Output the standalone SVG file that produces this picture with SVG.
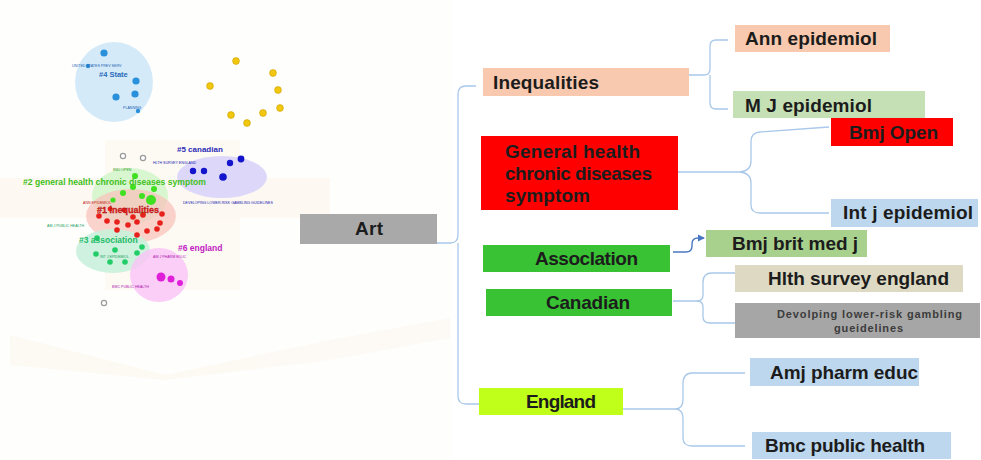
<svg xmlns="http://www.w3.org/2000/svg" width="981" height="460" viewBox="0 0 981 460">
  <defs>
    <style>
      .box-text { font-family: "Liberation Sans", Arial, sans-serif; font-weight: bold; font-size: 19px; fill: #1c1c1c; }
      .small-text { font-family: "Liberation Sans", Arial, sans-serif; font-weight: bold; font-size: 11px; fill: #3c3c3c; }
      .link { fill: none; stroke: #a9c8ea; stroke-width: 1.3; }
      .arrow { fill: none; stroke: #4a78c4; stroke-width: 1.4; }
      .cl-label { font-family: "Liberation Sans", Arial, sans-serif; font-weight: bold; }
      .cl-tiny { font-family: "Liberation Sans", Arial, sans-serif; font-size: 3.6px; }
      .hollow { fill: #ffffff; stroke: #9a9a9a; stroke-width: 1.2; }
      .yellow { fill: #f2c80f; stroke: #c9a000; stroke-width: 0.6; }
    </style>
    <marker id="arrowhead" markerWidth="8" markerHeight="8" refX="6" refY="4" orient="auto" markerUnits="userSpaceOnUse">
      <path d="M0,0.5 L7,4 L0,7.5 Z" fill="#4a78c4"/>
    </marker>
  </defs>

  <!-- page background -->
  <rect x="0" y="0" width="981" height="460" fill="#ffffff"/>
  <rect x="0" y="0" width="452" height="460" fill="#fefefd"/>
  <g id="backdrop" fill="#fcf6ea" opacity="0.45">
    <rect x="105" y="140" width="135" height="150"/>
    <rect x="0" y="178" width="330" height="40" fill="#fcf1e4"/>
    <polygon points="10,335 165,375 330,340 450,318 450,338 330,360 165,380 10,365"/>
  </g>

  <!-- co-citation cluster map -->
  <g id="cluster-map">
    <!-- cluster hulls -->
    <ellipse cx="114" cy="82" rx="39" ry="40" fill="#cfe8f8" opacity="0.9"/>
    <ellipse cx="222" cy="177" rx="45" ry="21" fill="#d9d4fa" opacity="0.9"/>
    <ellipse cx="130" cy="196" rx="38" ry="28" fill="#d4f5cc" opacity="0.9"/>
    <ellipse cx="131" cy="216" rx="45" ry="27" fill="#f8c4bc" opacity="0.75"/>
    <ellipse cx="113" cy="251" rx="37" ry="22" fill="#c9f1dc" opacity="0.9"/>
    <ellipse cx="159" cy="275" rx="29" ry="27" fill="#f9c6f6" opacity="0.85"/>

    <!-- #4 state -->
    <g fill="#2a90dc">
      <circle cx="104" cy="53" r="3.6"/>
      <circle cx="136" cy="81" r="3.6"/>
      <circle cx="135" cy="94" r="3.6"/>
      <circle cx="116" cy="97" r="3.6"/>
      <circle cx="88" cy="66" r="2.2"/>
      <circle cx="138" cy="111" r="2.2"/>
    </g>
    <text class="cl-tiny" x="72" y="67" fill="#2060b0">UNITED STATES PREV SERV</text>
    <text class="cl-tiny" x="123" y="109" fill="#2060b0">PLANNING</text>
    <text class="cl-label" x="99" y="77" font-size="7.5" fill="#2a6cb8">#4 State</text>

    <!-- unclustered -->
    <g>
      <circle class="yellow" cx="236" cy="61" r="3.4"/>
      <circle class="yellow" cx="273" cy="73" r="3.4"/>
      <circle class="yellow" cx="210" cy="86" r="3.4"/>
      <circle class="yellow" cx="278" cy="90" r="3.4"/>
      <circle class="yellow" cx="280" cy="108" r="3.4"/>
      <circle class="yellow" cx="263" cy="113" r="3.4"/>
      <circle class="yellow" cx="231" cy="115" r="3.4"/>
      <circle class="yellow" cx="247" cy="123" r="3.4"/>
      <circle class="hollow" cx="123" cy="156" r="2.6"/>
      <circle class="hollow" cx="143" cy="158" r="2.6"/>
      <circle class="hollow" cx="104" cy="303" r="2.6"/>
    </g>

    <!-- #5 canadian -->
    <g fill="#1414cc">
      <circle cx="241" cy="159" r="3.4"/>
      <circle cx="230" cy="163" r="3.2"/>
      <circle cx="193" cy="171" r="3.2"/>
      <circle cx="204" cy="171" r="3.2"/>
      <circle cx="223" cy="177" r="3.8"/>
    </g>
    <text class="cl-label" x="177" y="152" font-size="8" fill="#2c2cb8">#5 canadian</text>
    <text class="cl-tiny" x="153" y="164" fill="#2020b0">HLTH SURVEY ENGLAND</text>
    <text class="cl-tiny" x="183" y="204" fill="#2020b0">DEVELOPING LOWER-RISK GAMBLING GUIDELINES</text>

    <!-- #2 general health chronic diseases symptom -->
    <g fill="#3ee020">
      <circle cx="135" cy="176" r="3"/>
      <circle cx="133" cy="187" r="3"/>
      <circle cx="154" cy="189" r="3"/>
      <circle cx="123" cy="193" r="3"/>
      <circle cx="142" cy="196" r="3"/>
      <circle cx="151" cy="200" r="5"/>
      <circle cx="113" cy="200" r="2.6"/>
      <circle cx="143" cy="214" r="2.6"/>
    </g>
    <text class="cl-tiny" x="113" y="171" fill="#30a020">BMJ OPEN</text>

    <!-- #1 inequalities -->
    <g fill="#e8201c">
      <circle cx="99" cy="216" r="2.8"/>
      <circle cx="107" cy="221" r="2.8"/>
      <circle cx="117" cy="222" r="2.8"/>
      <circle cx="133" cy="217" r="2.8"/>
      <circle cx="143" cy="215" r="2.8"/>
      <circle cx="137" cy="222" r="2.8"/>
      <circle cx="160" cy="223" r="2.8"/>
      <circle cx="162" cy="214" r="2.8"/>
      <circle cx="117" cy="230" r="2.8"/>
      <circle cx="128" cy="225" r="2.8"/>
      <circle cx="137" cy="235" r="2.8"/>
      <circle cx="147" cy="231" r="2.8"/>
      <circle cx="157" cy="229" r="2.8"/>
      <circle cx="124" cy="210" r="2.4"/>
      <circle cx="110" cy="209" r="2.4"/>
    </g>
    <text class="cl-tiny" x="83" y="204" fill="#c01818">ANN EPIDEMIOL</text>
    <text class="cl-label" x="97" y="213" font-size="9" fill="#e82020" stroke="#a01010" stroke-width="0.3">#1 inequalities</text>

    <!-- #3 association -->
    <g fill="#22cc66">
      <circle cx="97" cy="238" r="2.8"/>
      <circle cx="96" cy="254" r="2.8"/>
      <circle cx="115" cy="250" r="2.8"/>
      <circle cx="137" cy="253" r="2.8"/>
      <circle cx="142" cy="247" r="2.8"/>
      <circle cx="110" cy="262" r="2.8"/>
      <circle cx="125" cy="262" r="2.8"/>
    </g>
    <text class="cl-tiny" x="47" y="227" fill="#20a060">AM J PUBLIC HEALTH</text>
    <text class="cl-tiny" x="100" y="258" fill="#20a060">INT J EPIDEMIOL</text>
    <text class="cl-label" x="79" y="243" font-size="8.5" fill="#22bb66">#3 association</text>

    <!-- #6 england -->
    <g fill="#e020d8">
      <circle cx="161" cy="277" r="4.5"/>
      <circle cx="171" cy="279" r="3.5"/>
      <circle cx="180" cy="283" r="3"/>
    </g>
    <text class="cl-label" x="178" y="251" font-size="8.5" fill="#c020c0">#6 england</text>
    <text class="cl-tiny" x="153" y="258" fill="#b018b0">AM J PHARM EDUC</text>
    <text class="cl-tiny" x="112" y="288" fill="#b018b0">BMC PUBLIC HEALTH</text>

    <text class="cl-label" x="23" y="185" font-size="8.6" fill="#40c020">#2 general health chronic diseases symptom</text>
  </g>

  <!-- connectors -->
  <g id="connectors">
    <path class="link" d="M437,243 H450 Q458,243 458,235 V94 Q458,86 466,86 H476"/>
    <path class="link" d="M458,243 V396 Q458,404 466,404 H479"/>
    <path class="link" d="M689,75 H704 Q710,75 710,69 V46 Q710,40 716,40 H728"/>
    <path class="link" d="M710,75 V103 Q710,109 716,109 H728"/>
    <path class="link" d="M678,172 H740 Q751,171 751,161 V141 Q751,133 760,132 L829,127"/>
    <path class="link" d="M740,172 Q751,173 751,183 V205 Q751,213 760,213 H829"/>
    <path class="arrow" d="M673,252 H686 Q692,252 692,246 V244 Q692,238 698,238 H704" marker-end="url(#arrowhead)"/>
    <path class="link" d="M673,301 H697 Q703,301 703,295 V282 Q703,273 712,273 H735"/>
    <path class="link" d="M697,301 Q703,301 703,307 V317 Q703,323 710,323 H735"/>
    <path class="link" d="M623,409 H676 Q683,408 683,400 V384 Q683,373 692,373 H745"/>
    <path class="link" d="M676,409 Q683,410 683,418 V438 Q683,446 692,446 H745"/>
  </g>

  <!-- root -->
  <g id="node-art">
    <rect x="300" y="214" width="137" height="30" fill="#a9a9a9"/>
    <text class="box-text" x="355" y="235" textLength="28">Art</text>
  </g>

  <!-- first level -->
  <g id="node-inequalities">
    <rect x="483" y="68" width="206" height="28" fill="#f8c9ae"/>
    <text class="box-text" x="493" y="89" textLength="106">Inequalities</text>
  </g>
  <g id="node-general-health">
    <rect x="481" y="136" width="197" height="74" fill="#ff0000"/>
    <text class="box-text" x="505" y="158" textLength="135">General health</text>
    <text class="box-text" x="505" y="180" textLength="147">chronic diseases</text>
    <text class="box-text" x="505" y="202" textLength="85">symptom</text>
  </g>
  <g id="node-association">
    <rect x="483" y="245" width="187" height="27" fill="#38c234"/>
    <text class="box-text" x="535" y="265" textLength="103">Assoclation</text>
  </g>
  <g id="node-canadian">
    <rect x="486" y="289" width="186" height="27" fill="#38c234"/>
    <text class="box-text" x="546" y="309" textLength="84">Canadian</text>
  </g>
  <g id="node-england">
    <rect x="479" y="388" width="144" height="27" fill="#bfff1a"/>
    <text class="box-text" x="526" y="408" textLength="70">England</text>
  </g>

  <!-- second level -->
  <g id="node-ann-epidemiol">
    <rect x="735" y="25" width="155" height="27" fill="#f8c9ae"/>
    <text class="box-text" x="745" y="45" textLength="132">Ann epidemiol</text>
  </g>
  <g id="node-m-j-epidemiol">
    <rect x="733" y="91" width="192" height="27" fill="#c5e0b4"/>
    <text class="box-text" x="745" y="112" textLength="127">M J epidemiol</text>
  </g>
  <g id="node-bmj-open">
    <rect x="831" y="118" width="122" height="28" fill="#ff0000"/>
    <text class="box-text" x="849" y="139" textLength="89">Bmj Open</text>
  </g>
  <g id="node-int-j-epidemiol">
    <rect x="831" y="199" width="147" height="28" fill="#bdd7ee"/>
    <text class="box-text" x="843" y="219" textLength="130">Int j epidemiol</text>
  </g>
  <g id="node-bmj-brit-med-j">
    <rect x="706" y="230" width="161" height="27" fill="#a9d18e"/>
    <text class="box-text" x="732" y="250" textLength="126">Bmj brit med j</text>
  </g>
  <g id="node-hlth-survey-england">
    <rect x="735" y="265" width="228" height="27" fill="#ddd9c3"/>
    <text class="box-text" x="768" y="285" textLength="181">Hlth survey england</text>
  </g>
  <g id="node-gambling-guidelines">
    <rect x="735" y="303" width="245" height="35" fill="#a6a6a6"/>
    <text class="small-text" x="777" y="318" textLength="185">Devolping lower-risk gambling</text>
    <text class="small-text" x="834" y="332" textLength="69">gueidelines</text>
  </g>
  <g id="node-amj-pharm-educ">
    <rect x="750" y="358" width="169" height="28" fill="#bdd7ee"/>
    <text class="box-text" x="770" y="379" textLength="148">Amj pharm educ</text>
  </g>
  <g id="node-bmc-public-health">
    <rect x="752" y="432" width="199" height="27" fill="#bdd7ee"/>
    <text class="box-text" x="765" y="452" textLength="160">Bmc public health</text>
  </g>
</svg>
